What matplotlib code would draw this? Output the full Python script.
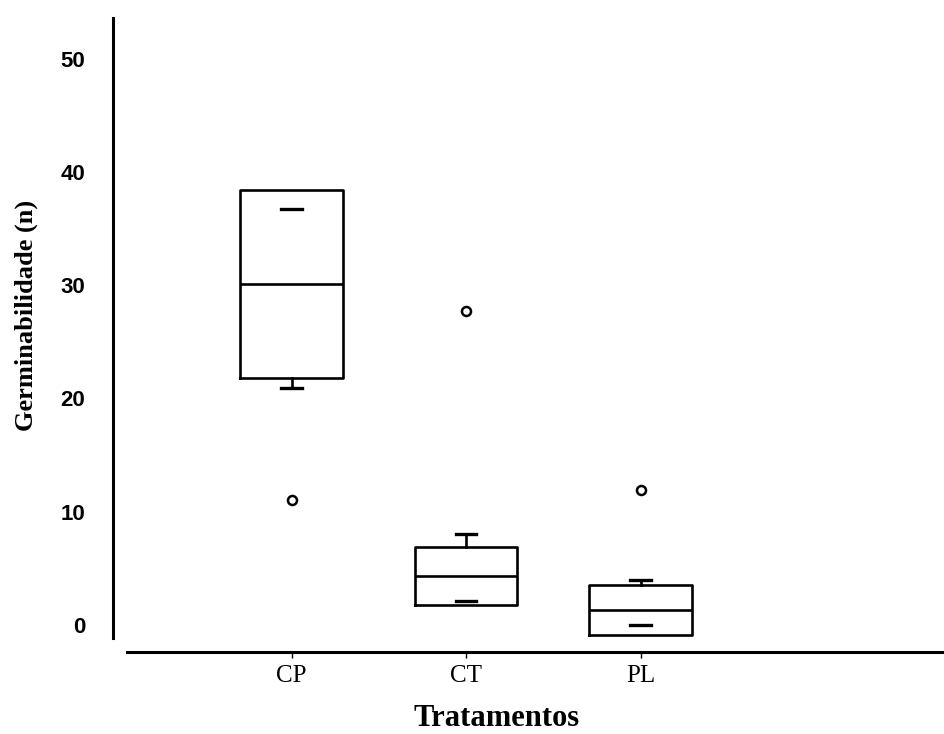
import matplotlib
matplotlib.use("Agg")
import matplotlib.pyplot as plt

# tratamentos e estatisticas
tratamentos = ["CP", "CT", "PL"]
q1 = [21.8, 1.8, -0.9]
mediana = [30.1, 4.3, 1.3]
q3 = [38.4, 6.9, 3.5]
whis_lo = [20.9, 2.1, 0.0]
whis_hi = [36.7, 8.0, 4.0]
outliers = [[11.0], [27.7], [11.9]]

stats = []
for i, nome in enumerate(tratamentos):
    stats.append(dict(label=nome, q1=q1[i], med=mediana[i], q3=q3[i],
                      whislo=whis_lo[i], whishi=whis_hi[i], fliers=outliers[i]))

fig = plt.figure(figsize=(9.45, 7.34), dpi=100)
ax = fig.add_axes([113 / 945, 1 - 652 / 734, 1 - 113 / 945, (652 - 18) / 734])

lw = 1.9
res = ax.bxp(stats, positions=[1, 2, 3], widths=0.59, capwidths=0.12,
             boxprops=dict(color="black", linewidth=lw),
             medianprops=dict(color="black", linewidth=lw),
             whiskerprops=dict(color="black", linewidth=lw),
             capprops=dict(color="black", linewidth=2.4),
             flierprops=dict(marker="o", markersize=6.5, markerfacecolor="none",
                             markeredgecolor="black", markeredgewidth=1.8))

# whiskers que caem dentro da caixa nao aparecem no original
for i in range(len(tratamentos)):
    lo, hi = res["whiskers"][2 * i], res["whiskers"][2 * i + 1]
    if whis_lo[i] > q1[i]:
        lo.set_visible(False)
    if whis_hi[i] < q3[i]:
        hi.set_visible(False)

ax.set_xlim(-0.023, 4.745)
ax.set_ylim(-2.39, 53.6)

for s in ["top", "right"]:
    ax.spines[s].set_visible(False)
ax.spines["left"].set_linewidth(2.2)
ax.spines["bottom"].set_linewidth(2.2)
ax.spines["left"].set_bounds(-1.15, 53.6)
ax.spines["bottom"].set_bounds(0.057, 4.745)

ax.set_yticks([0, 10, 20, 30, 40, 50])
ax.set_yticklabels(["0", "10", "20", "30", "40", "50"],
                   fontfamily="Liberation Sans", fontweight="bold", fontsize=16)
ax.tick_params(axis="y", length=0, pad=20)
ax.set_xticks([1, 2, 3])
ax.set_xticklabels(tratamentos, fontfamily="Liberation Serif", fontsize=18)
ax.tick_params(axis="x", length=4, width=1, pad=5)

ax.set_xlabel("Tratamentos", fontfamily="Liberation Serif", fontweight="bold",
              fontsize=22, va="center", ha="center")
ax.xaxis.set_label_coords((497 - 113) / (945 - 113), -(719 - 652) / (652 - 18))
ax.set_ylabel("Germinabilidade (n)", fontfamily="Liberation Serif",
              fontweight="bold", fontsize=19, va="center", ha="center")
ax.yaxis.set_label_coords(-(113 - 26) / (945 - 113), (652 - 315) / (652 - 18))

fig.savefig("out.png", dpi=100)
